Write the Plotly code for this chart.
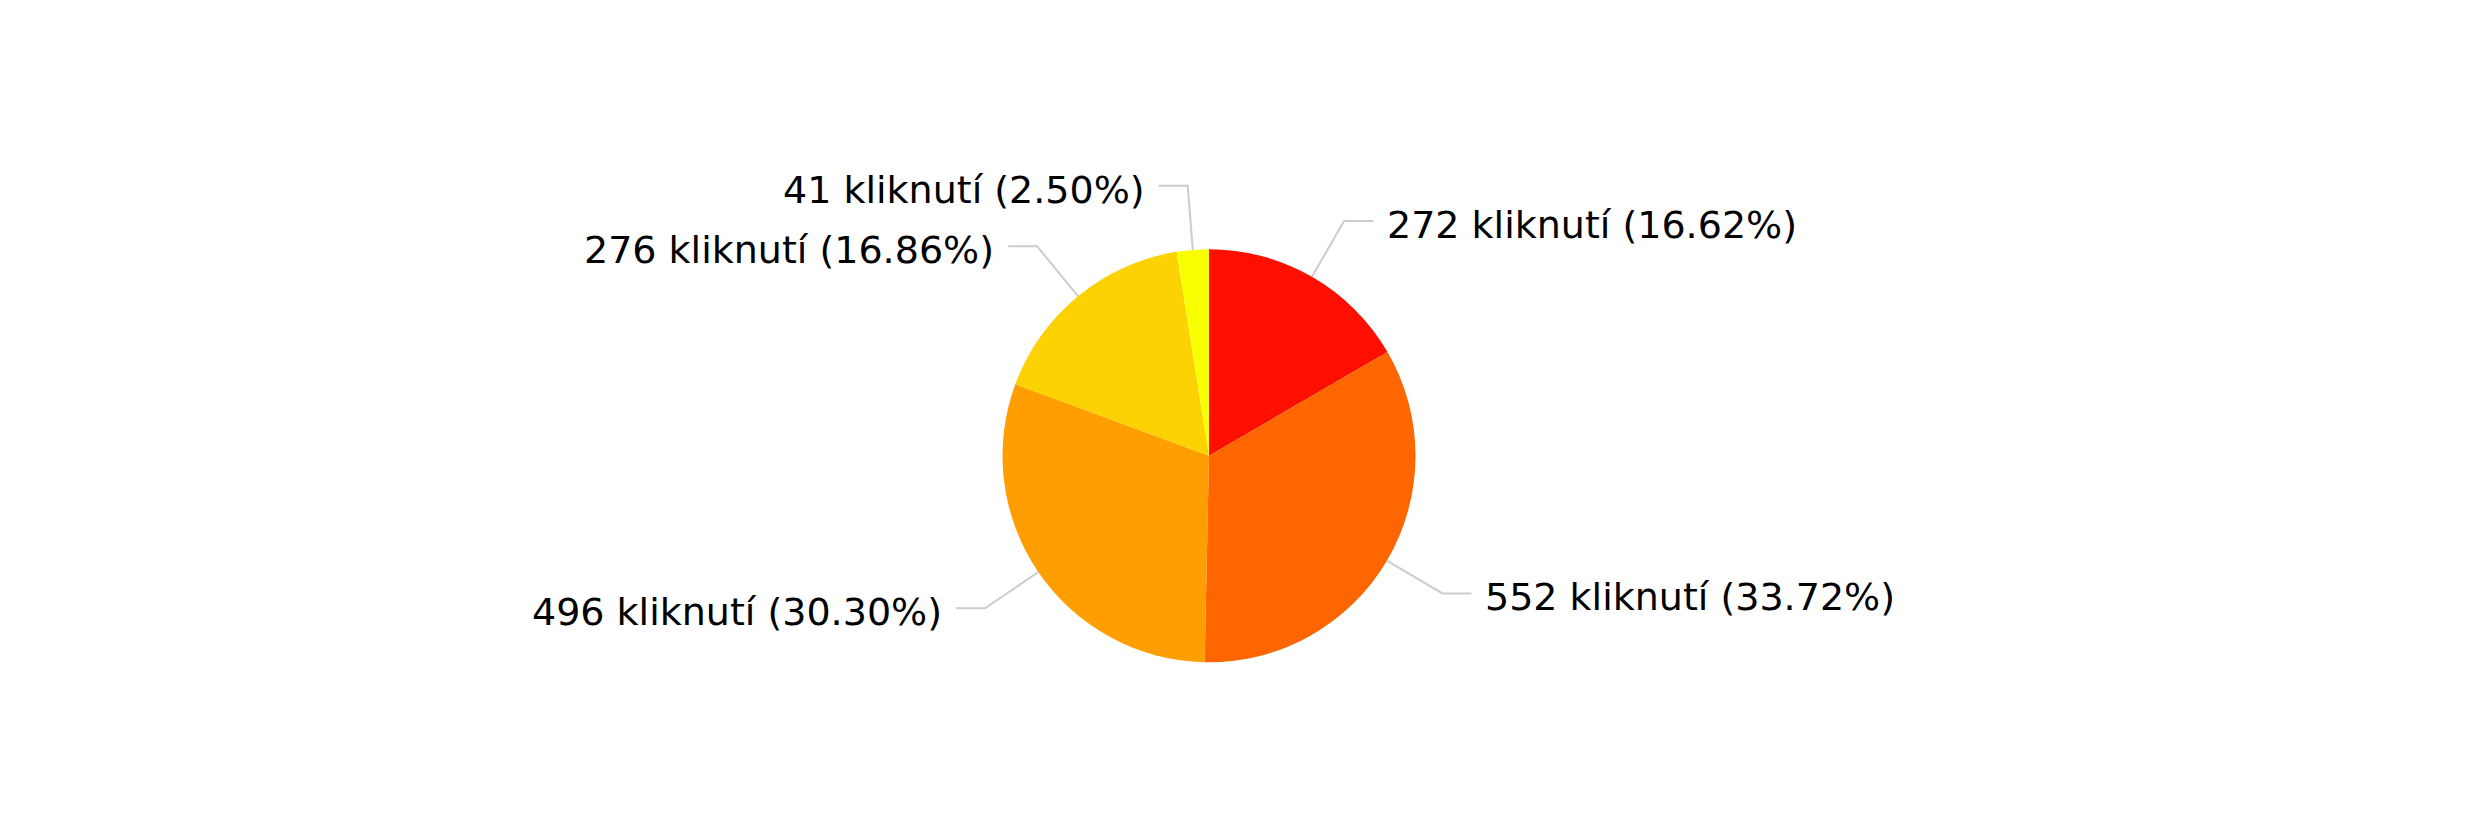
import math
import plotly.graph_objects as go

# Click counts per slice, clockwise from 12 o'clock
clicks = [272, 552, 496, 276, 41]
slice_colors = ["#FF0F00", "#FF6600", "#FF9E01", "#FCD202", "#F8FF01"]
unit_label = "kliknutí"

W, H = 2480, 833
cx, cy, r = 1209.0, 455.8, 206.5      # pie centre and radius (px)
ext_r = 271.0                          # where the leader line bends
tail = 29.0                            # horizontal part of the leader
gap = 12.0                             # space between leader and text

total = sum(clicks)
pcts = [v / total * 100 for v in clicks]
texts = [f"{v} {unit_label} ({p:.2f}%)" for v, p in zip(clicks, pcts)]

fig = go.Figure(go.Pie(
    values=clicks,
    labels=texts,
    sort=False,
    direction="clockwise",
    rotation=0,
    textinfo="none",
    hoverinfo="label",
    marker=dict(colors=slice_colors, line=dict(width=0)),
    showlegend=False,
    domain=dict(x=[(cx - r) / W, (cx + r) / W],
                y=[1 - (cy + r) / H, 1 - (cy - r) / H]),
))


def px(x, y):
    return x / W, 1 - y / H


shapes, annotations = [], []
cum = 0.0
for v, t in zip(clicks, texts):
    mid = (cum + v / 2) / total * 2 * math.pi
    cum += v
    s, c = math.sin(mid), math.cos(mid)
    x0, y0 = cx + r * s, cy - r * c
    x1, y1 = cx + ext_r * s, cy - ext_r * c
    side = 1 if s >= 0 else -1
    x2 = x1 + side * tail
    p0, p1, p2 = px(x0, y0), px(x1, y1), px(x2, y1)
    shapes.append(dict(
        type="path", xref="paper", yref="paper",
        path=f"M {p0[0]},{p0[1]} L {p1[0]},{p1[1]} L {p2[0]},{p2[1]}",
        line=dict(color="#CCCCCC", width=2),
    ))
    tx, ty = px(x2 + side * gap, y1 + 4)
    annotations.append(dict(
        x=tx, y=ty, xref="paper", yref="paper", text=t, showarrow=False,
        xanchor="left" if side > 0 else "right", yanchor="middle",
        font=dict(family="DejaVu Sans, Verdana, sans-serif", size=38, color="#000000"),
    ))

fig.update_layout(
    width=W, height=H,
    margin=dict(l=0, r=0, t=0, b=0),
    paper_bgcolor="#FFFFFF",
    plot_bgcolor="#FFFFFF",
    shapes=shapes,
    annotations=annotations,
)

fig.write_html("out.html")
